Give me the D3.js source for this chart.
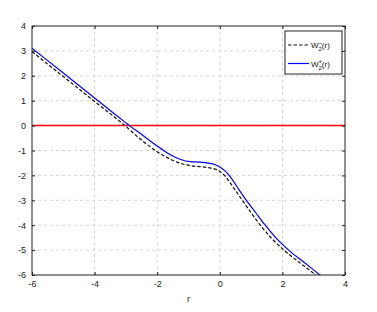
<!DOCTYPE html>
<html>
<head>
<meta charset="utf-8">
<script src="https://cdn.jsdelivr.net/npm/d3@7"></script>
<style>
  body { margin: 0; background: #fff; }
  svg { display: block; font-family: "Liberation Sans", Arial, sans-serif; }
</style>
</head>
<body>
<svg id="chart" width="377" height="312"></svg>
<script>
// values
const xTicks = [-6, -4, -2, 0, 2, 4];
const yTicks = [4, 3, 2, 1, 0, -1, -2, -3, -4, -5, -6];

const rBlue = [-6, -5, -4, -3, -2.89, -2.55, -2, -1.8, -1.27, -0.95, -0.63, -0.37, -0.15, 0, 0.15, 0.33, 0.47, 0.6, 0.86, 1.15, 1.44, 1.8, 2.2, 2.7, 3.2, 3.5];
const wPlus = [3.11, 2.11, 1.11, 0.11, 0, -0.31, -0.82, -1.0, -1.35, -1.45, -1.47, -1.51, -1.57, -1.66, -1.8, -2.05, -2.3, -2.55, -3.02, -3.5, -3.98, -4.52, -5.0, -5.5, -6.0, -6.3];

const rBlack = [-6, -5, -4, -3.03, -2.55, -2, -1.27, -0.95, -0.63, -0.37, -0.15, 0, 0.1, 0.22, 0.35, 0.47, 0.72, 1.0, 1.28, 1.65, 2.05, 2.6, 3.12, 3.5];
const wMinus = [2.97, 1.97, 0.97, 0, -0.53, -1.05, -1.51, -1.61, -1.65, -1.69, -1.75, -1.84, -1.94, -2.1, -2.33, -2.55, -3.0, -3.5, -3.98, -4.52, -5.0, -5.55, -6.05, -6.43];

function drawChart() {
  const width = 377, height = 312;
  const margin = {top: 26, right: 32, bottom: 37, left: 32};
  const w = width - margin.left - margin.right;
  const h = height - margin.top - margin.bottom;

  const svg = d3.select("#chart");
  const g = svg.append("g").attr("transform", `translate(${margin.left},${margin.top})`);

  const x = d3.scaleLinear().domain([-6, 4]).range([0, w]);
  const y = d3.scaleLinear().domain([-6, 4]).range([h, 0]);

  // grid
  g.append("g").selectAll("line")
    .data(xTicks.slice(1, -1))
    .join("line")
    .attr("x1", d => x(d)).attr("x2", d => x(d))
    .attr("y1", 0).attr("y2", h)
    .attr("stroke", "#d4d4d4").attr("stroke-dasharray", "3,3");
  g.append("g").selectAll("line")
    .data(yTicks.slice(1, -1))
    .join("line")
    .attr("y1", d => y(d)).attr("y2", d => y(d))
    .attr("x1", 0).attr("x2", w)
    .attr("stroke", "#d4d4d4").attr("stroke-dasharray", "3,3");

  g.append("clipPath").attr("id", "clip")
    .append("rect").attr("width", w).attr("height", h);

  const plot = g.append("g").attr("clip-path", "url(#clip)");

  // zero line
  plot.append("line")
    .attr("x1", 0).attr("x2", w)
    .attr("y1", y(0)).attr("y2", y(0))
    .attr("stroke", "#ff0000").attr("stroke-width", 1.5);

  const line = d3.line().curve(d3.curveMonotoneX);

  plot.append("path")
    .attr("d", line(rBlack.map((r, i) => [x(r), y(wMinus[i])])))
    .attr("fill", "none").attr("stroke", "#111")
    .attr("stroke-width", 1.2).attr("stroke-dasharray", "3.5,2");

  plot.append("path")
    .attr("d", line(rBlue.map((r, i) => [x(r), y(wPlus[i])])))
    .attr("fill", "none").attr("stroke", "#0000ff")
    .attr("stroke-width", 1.2);

  // axes, ticks pointing inward
  const fmt = d => String(d);
  const styleAxis = sel => {
    sel.select(".domain").remove();
    sel.selectAll("line").attr("stroke", "#222");
    sel.selectAll("text").attr("fill", "#222").style("font-size", "9px");
  };
  g.append("g").attr("transform", `translate(0,${h})`)
    .call(d3.axisBottom(x).tickValues(xTicks).tickFormat(fmt).tickSizeInner(-3).tickSizeOuter(0).tickPadding(6))
    .call(styleAxis);
  g.append("g")
    .call(d3.axisLeft(y).tickValues(yTicks).tickFormat(fmt).tickSizeInner(-3).tickSizeOuter(0).tickPadding(6))
    .call(styleAxis);
  g.append("g")
    .call(d3.axisTop(x).tickValues(xTicks).tickFormat("").tickSizeInner(-3).tickSizeOuter(0))
    .call(styleAxis);
  g.append("g").attr("transform", `translate(${w},0)`)
    .call(d3.axisRight(y).tickValues(yTicks).tickFormat("").tickSizeInner(-3).tickSizeOuter(0))
    .call(styleAxis);

  // frame
  g.append("rect")
    .attr("width", w).attr("height", h)
    .attr("fill", "none").attr("stroke", "#222").attr("stroke-width", 1);

  // x label
  g.append("text")
    .attr("x", w / 2).attr("y", h + 27)
    .attr("text-anchor", "middle")
    .style("font-size", "9px").attr("fill", "#222")
    .text("r");

  // legend
  const legend = g.append("g").attr("transform", `translate(${w - 60},5)`);
  legend.append("rect")
    .attr("width", 57).attr("height", 43)
    .attr("fill", "#fff").attr("stroke", "#222").attr("stroke-width", 1);

  const items = [
    {sup: "−", color: "#111", dash: "3.5,2"},
    {sup: "+", color: "#0000ff", dash: null}
  ];
  items.forEach((it, i) => {
    const yy = 14 + i * 18.5;
    legend.append("line")
      .attr("x1", 3).attr("x2", 24)
      .attr("y1", yy).attr("y2", yy)
      .attr("stroke", it.color).attr("stroke-width", 1.2)
      .attr("stroke-dasharray", it.dash);
    const t = legend.append("text")
      .attr("x", 26).attr("y", yy + 3)
      .style("font-size", "8px").attr("fill", "#111");
    t.append("tspan").text("W");
    t.append("tspan").attr("dy", -3.5).style("font-size", "6px").text(it.sup);
    t.append("tspan").attr("dx", -3.6).attr("dy", 6.5).style("font-size", "6px").text("2");
    t.append("tspan").attr("dy", -3).text("(r)");
  });
}

drawChart();
</script>
</body>
</html>
